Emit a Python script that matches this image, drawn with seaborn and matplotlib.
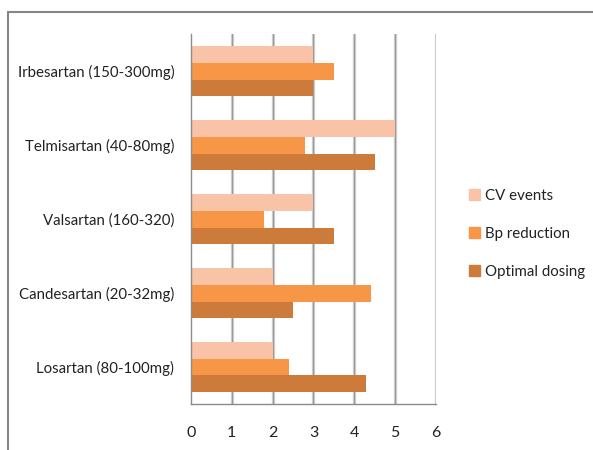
import matplotlib
matplotlib.use("Agg")
import matplotlib.pyplot as plt
import seaborn as sns
import pandas as pd
from matplotlib.lines import Line2D
from matplotlib.ticker import FixedLocator

drugs = ["Irbesartan (150-300mg)", "Telmisartan (40-80mg)", "Valsartan (160-320)",
         "Candesartan (20-32mg)", "Losartan (80-100mg)"]
series = ["CV events", "Bp reduction", "Optimal dosing"]
cv_events = [3, 5, 3, 2, 2]
bp_reduction = [3.5, 2.8, 1.8, 4.4, 2.4]
optimal_dosing = [3, 4.5, 3.5, 2.5, 4.3]
x_ticks = [0, 1, 2, 3, 4, 5, 6]
colors = ["#F9C3A8", "#F79646", "#CD7B3A"]

df = pd.DataFrame({
    "drug": drugs * 3,
    "series": [s for s in series for _ in drugs],
    "value": cv_events + bp_reduction + optimal_dosing,
})

sns.set_style("white")
plt.rcParams["font.family"] = ["Lato", "DejaVu Sans"]
FS = 10.8

fig = plt.figure(figsize=(5.93, 4.5), dpi=100)
ax = fig.add_axes([0.322, 0.102, 0.413, 0.822])

sns.barplot(data=df, y="drug", x="value", hue="series", order=drugs,
            hue_order=series, palette=colors, width=0.68, saturation=1,
            orient="h", ax=ax, edgecolor="none", errorbar=None)

ax.set_xlim(0, 6)
ax.set_ylim(4.5, -0.5)
ax.set_xticks(x_ticks)
ax.set_xticklabels([str(t) for t in x_ticks], fontsize=11.5, color="#222222")
ax.set_xlabel("")
ax.set_ylabel("")
ax.tick_params(axis="y", which="major", length=0, labelsize=FS,
               labelcolor="#222222", pad=12)
ax.yaxis.set_minor_locator(FixedLocator([i - 0.5 for i in range(6)]))
ax.tick_params(axis="y", which="minor", length=5, color="#8c8c8c", width=1)
ax.tick_params(axis="x", which="major", length=5, color="#8c8c8c", width=1,
               labelsize=11.5, pad=11)

ax.grid(False)
for t in x_ticks[1:]:
    ax.axvline(t, color="#d8d8d8", lw=2.4, zorder=0)
    ax.axvline(t, color="#9a9a9a", lw=1, zorder=0.5)

for side in ["top", "right"]:
    ax.spines[side].set_visible(False)
for side in ["left", "bottom"]:
    ax.spines[side].set_color("#8c8c8c")
    ax.spines[side].set_linewidth(1)

handles = [plt.Rectangle((0, 0), 1, 1, color=c) for c in colors]
ax.legend(handles, series, loc="center left", bbox_to_anchor=(0.768, 0.48),
          bbox_transform=fig.transFigure, frameon=False, fontsize=FS,
          handlelength=0.75, handleheight=0.75, handletextpad=0.3,
          labelspacing=1.6, labelcolor="#222222")

# outer chart frame (top and left edges)
fig.add_artist(Line2D([8 / 593, 1], [1 - 12 / 450, 1 - 12 / 450],
                      transform=fig.transFigure, color="#868686", lw=1.5))
fig.add_artist(Line2D([8 / 593, 8 / 593], [0, 1 - 12 / 450],
                      transform=fig.transFigure, color="#868686", lw=1.5))

fig.savefig("out.png", dpi=100, facecolor="white")
